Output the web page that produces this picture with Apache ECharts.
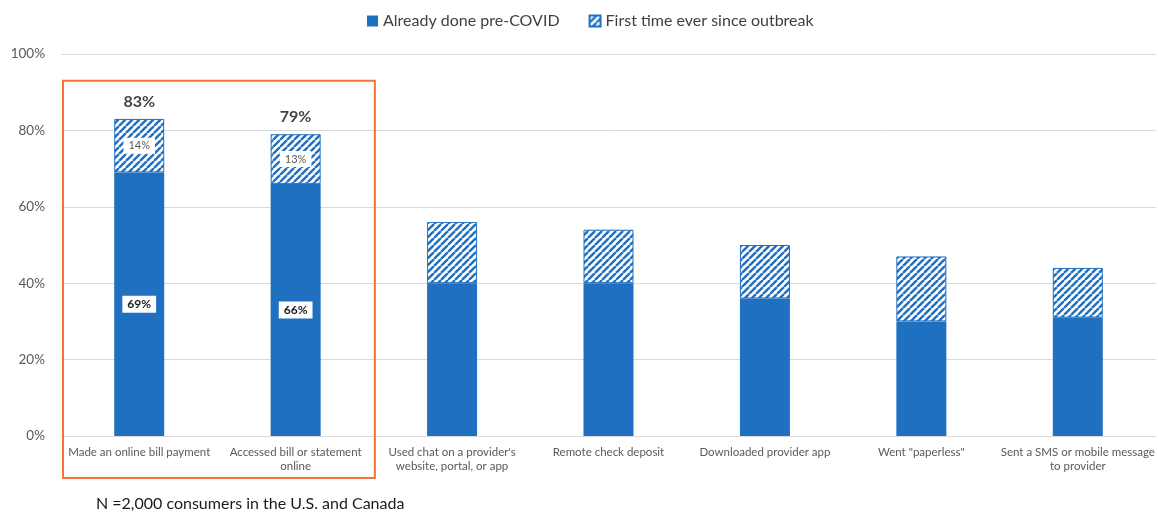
<!DOCTYPE html>
<html>
<head>
<meta charset="utf-8">
<script src="https://cdn.jsdelivr.net/npm/echarts@6/dist/echarts.min.js"></script>
<style>
  html, body { margin: 0; padding: 0; background: #ffffff; }
  #chart { width: 1158px; height: 514px; }
</style>
</head>
<body>
<div id="chart"></div>
<script>
// Digital activities, share of consumers
const categories = [
  'Made an online bill payment',
  'Accessed bill or statement\nonline',
  "Used chat on a provider's\nwebsite, portal, or app",
  'Remote check deposit',
  'Downloaded provider app',
  'Went "paperless"',
  'Sent a SMS or mobile message\nto provider'
];
const preCovid = [69, 66, 40, 40, 36, 30, 31];
const firstTime = [14, 13, 16, 14, 14, 17, 13];
// Categories whose segment and total values are printed
const labelled = [true, true, false, false, false, false, false];
const yTicks = [0, 20, 40, 60, 80, 100];

const BLUE = '#1f70c1';
const FONT = 'Lato, "Open Sans", sans-serif';

// Diagonal hatch fill for the "first time" segments
function hatchPattern() {
  const c = document.createElement('canvas');
  const s = 7;
  c.width = s; c.height = s;
  const g = c.getContext('2d');
  g.fillStyle = '#ffffff';
  g.fillRect(0, 0, s, s);
  g.strokeStyle = BLUE;
  g.lineWidth = 2.4;
  g.beginPath();
  for (let k = -1; k <= 1; k++) {
    g.moveTo(k * s, s);
    g.lineTo(k * s + s, 0);
  }
  g.stroke();
  return c;
}
const hatch = { image: hatchPattern(), repeat: 'repeat' };

const totals = preCovid.map((v, i) => labelled[i] ? v + firstTime[i] : null);

// Segment values; only the labelled categories carry a visible value box
const segData = values => values.map((v, i) => ({ value: v, label: { show: labelled[i] } }));

const segLabel = (bold, color, size) => ({
  show: true,
  position: 'inside',
  formatter: p => p.value + '%',
  color: color,
  fontFamily: FONT,
  fontSize: size,
  fontWeight: bold ? 'bold' : 'normal',
  backgroundColor: '#ffffff',
  padding: [3, 5, 2, 5]
});

const chart = echarts.init(document.getElementById('chart'), null, { renderer: 'canvas' });

chart.setOption({
  animation: false,
  backgroundColor: '#ffffff',
  textStyle: { fontFamily: FONT },
  legend: {
    top: 8,
    left: 362,
    itemWidth: 11,
    itemHeight: 11,
    itemGap: 29,
    textStyle: { fontFamily: FONT, fontSize: 16, color: '#404040' },
    data: [
      { name: 'Already done pre-COVID', icon: 'rect' },
      { name: 'First time ever since outbreak', icon: 'rect' }
    ]
  },
  grid: { left: 61, right: 2, top: 54, bottom: 78, containLabel: false },
  xAxis: {
    type: 'category',
    data: categories,
    axisTick: { show: false },
    axisLine: { lineStyle: { color: '#d9d9d9', width: 1 } },
    axisLabel: {
      interval: 0,
      color: '#595959',
      fontFamily: FONT,
      fontSize: 11.5,
      lineHeight: 14,
      margin: 9
    }
  },
  yAxis: {
    type: 'value',
    min: yTicks[0],
    max: yTicks[yTicks.length - 1],
    interval: yTicks[1] - yTicks[0],
    axisLine: { show: false },
    axisTick: { show: false },
    splitLine: { lineStyle: { color: '#d9d9d9', width: 1 } },
    axisLabel: {
      formatter: v => v + '%',
      color: '#595959',
      fontFamily: FONT,
      fontSize: 13.5,
      margin: 16
    }
  },
  series: [
    {
      name: 'Already done pre-COVID',
      type: 'bar',
      stack: 'total',
      barWidth: 50,
      data: segData(preCovid),
      itemStyle: { color: BLUE },
      label: segLabel(true, '#1a1a1a', 12)
    },
    {
      name: 'First time ever since outbreak',
      type: 'bar',
      stack: 'total',
      barWidth: 50,
      data: segData(firstTime),
      itemStyle: { color: hatch, borderColor: BLUE, borderWidth: 1 },
      label: segLabel(false, '#595959', 11)
    },
    {
      name: 'total',
      type: 'scatter',
      symbolSize: 0,
      data: totals,
      silent: true,
      label: {
        show: true,
        position: 'top',
        distance: 9,
        formatter: p => p.value == null ? '' : p.value + '%',
        color: '#111111',
        fontFamily: FONT,
        fontSize: 16,
        fontWeight: 'bold'
      }
    }
  ]
});

// Orange frame around the highlighted categories, placed from the axes
function drawFrame() {
  const x0 = chart.convertToPixel({ xAxisIndex: 0 }, categories[0]);
  const x1 = chart.convertToPixel({ xAxisIndex: 0 }, categories[1]);
  const band = x1 - x0;
  const yTop = chart.convertToPixel({ yAxisIndex: 0 }, 93);
  const yZero = chart.convertToPixel({ yAxisIndex: 0 }, 0);
  const left = x0 - band / 2 + 2;
  const right = x1 + band / 2 + 1;
  chart.setOption({
    graphic: [{
      type: 'rect',
      shape: { x: left, y: yTop, width: right - left, height: yZero + 42 - yTop },
      style: { fill: 'none', stroke: '#f0733a', lineWidth: 2 },
      silent: true,
      z: 10
    }, {
      type: 'text',
      left: 96,
      top: 496,
      style: {
        text: 'N =2,000 consumers in the U.S. and Canada',
        fill: '#1a1a1a',
        font: '16px ' + FONT
      }
    }]
  });
}
drawFrame();
</script>
</body>
</html>
